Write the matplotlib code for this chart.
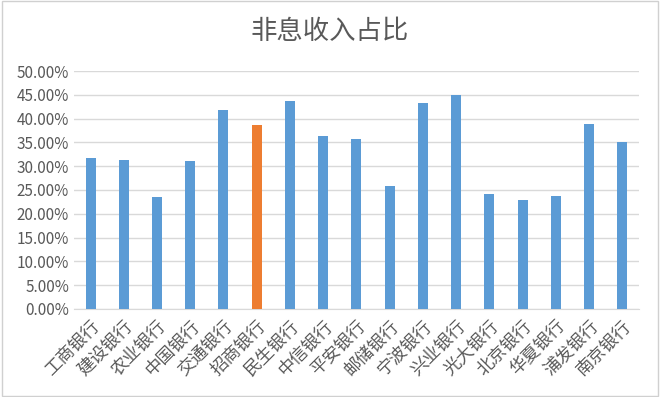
import matplotlib.pyplot as plt
from matplotlib.ticker import FuncFormatter
from matplotlib.patches import Rectangle

plt.rcParams['font.family'] = ['Noto Sans CJK SC', 'DejaVu Sans']

# 各银行非息收入占比
banks = ['工商银行', '建设银行', '农业银行', '中国银行', '交通银行', '招商银行',
         '民生银行', '中信银行', '平安银行', '邮储银行', '宁波银行', '兴业银行',
         '光大银行', '北京银行', '华夏银行', '浦发银行', '南京银行']
ratios = [0.317, 0.314, 0.236, 0.311, 0.418, 0.386, 0.438, 0.363, 0.357,
          0.258, 0.432, 0.450, 0.241, 0.229, 0.238, 0.389, 0.350]
highlight = '招商银行'

blue = '#5b9bd5'
orange = '#ed7d31'
text_gray = '#595959'
colors = [orange if b == highlight else blue for b in banks]

fig = plt.figure(figsize=(6.6, 3.97), dpi=100)
fig.patches.append(Rectangle((0.003, 0.003), 0.994, 0.994, transform=fig.transFigure,
                             fill=False, edgecolor='#d0d0d0', linewidth=1))

ax = fig.add_axes([0.112, 0.222, 0.856, 0.599])
x = range(len(banks))
ax.bar(x, ratios, width=0.3, color=colors, zorder=3)

ax.set_xlim(-0.5, len(banks) - 0.5)
ax.set_ylim(0, 0.5)
ax.set_yticks([i * 0.05 for i in range(11)])
ax.yaxis.set_major_formatter(FuncFormatter(lambda v, p: f'{v * 100:.2f}%'))
ax.grid(axis='y', color='#d9d9d9', linewidth=1, zorder=0)

ax.set_xticks(list(x))
ax.set_xticklabels(banks, rotation=45, ha='right', va='top', rotation_mode='anchor',
                   fontsize=12.5, fontweight='light')
ax.tick_params(axis='both', length=0, colors=text_gray)
ax.tick_params(axis='y', labelsize=11)
ax.tick_params(axis='x', pad=6)

for s in ['top', 'right', 'left']:
    ax.spines[s].set_visible(False)
ax.spines['bottom'].set_color('#d9d9d9')

fig.suptitle('非息收入占比', x=0.5, y=0.955, fontsize=19, color=text_gray)

fig.savefig('out.png', dpi=100)
